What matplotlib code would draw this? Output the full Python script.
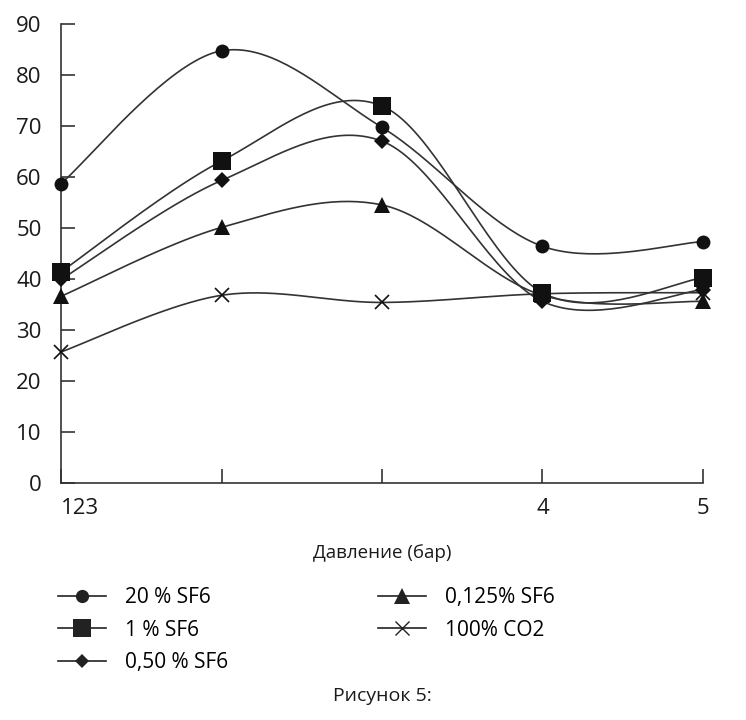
import matplotlib.pyplot as plt
import numpy as np

plt.rcParams['font.family'] = ['Open Sans', 'DejaVu Sans']

# pressure points (categories) and tick labels as printed
positions = [1, 2, 3, 4, 5]
tick_labels = ['123', '', '', '4', '5']

sf6_20 = [58.7, 84.7, 69.7, 46.4, 47.3]
sf6_1 = [41.4, 63.1, 73.9, 37.3, 40.2]
sf6_050 = [39.9, 59.3, 67.0, 35.6, 37.9]
sf6_0125 = [36.6, 50.1, 54.5, 36.8, 35.6]
co2_100 = [25.7, 36.8, 35.4, 37.1, 37.3]

labels = ['20 % SF6', '1 % SF6', '0,50 % SF6', '0,125% SF6', '100% CO2']
markers = ['o', 's', 'D', '^', 'x']
msizes = [10, 13, 8, 12, 10]


def smooth(xs, ys, n=40):
    # excel-like smoothed line: cubic bezier with catmull-rom control points
    p = np.column_stack([xs, ys]).astype(float)
    out = []
    for i in range(len(p) - 1):
        p0 = p[i - 1] if i > 0 else p[i]
        p1 = p[i]
        p2 = p[i + 1]
        p3 = p[i + 2] if i + 2 < len(p) else p[i + 1]
        c1 = p1 + (p2 - p0) / 6
        c2 = p2 - (p3 - p1) / 6
        t = np.linspace(0, 1, n)[:, None]
        seg = ((1 - t) ** 3) * p1 + 3 * ((1 - t) ** 2) * t * c1 + 3 * (1 - t) * t ** 2 * c2 + t ** 3 * p2
        out.append(seg)
    out = np.vstack(out)
    return out[:, 0], out[:, 1]


fig = plt.figure(figsize=(7.46, 7.2), dpi=100)
ax = fig.add_axes([0.0818, 0.329, 0.8605, 0.638])

series = [sf6_20, sf6_1, sf6_050, sf6_0125, co2_100]
handles = []
for ys, lab, m, ms in zip(series, labels, markers, msizes):
    sx, sy = smooth(positions, ys)
    ax.plot(sx, sy, color='#333333', lw=1.2, zorder=2)
    ax.plot(positions, ys, linestyle='none', marker=m, ms=ms, color='#111111',
            mew=1.2 if m == 'x' else 0, zorder=3, clip_on=False)
    # legend handle: line with marker in the middle
    h, = ax.plot([], [], color='#222222', lw=1.2, marker=m, ms=ms * 0.95,
                 mew=1.0 if m == 'x' else 0)
    handles.append(h)

ax.set_xlim(1, 5)
ax.set_ylim(0, 90)
ax.set_yticks(np.arange(0, 91, 10))
ax.set_xticks(positions)
ax.set_xticklabels(tick_labels)
for s in ['top', 'right']:
    ax.spines[s].set_visible(False)
for s in ['left', 'bottom']:
    ax.spines[s].set_color('#333333')
    ax.spines[s].set_linewidth(1.2)
ax.tick_params(direction='in', length=10, width=1.2, color='#333333',
               labelsize=16, labelcolor='#1a1a1a')
ax.tick_params(axis='y', pad=14)
ax.tick_params(axis='x', pad=11)
ax.get_xticklabels()[0].set_horizontalalignment('left')

ax.set_xlabel('Давление (бар)', fontsize=13.5, labelpad=18, color='#1a1a1a')

fig.legend(handles=handles, labels=labels, ncol=2, loc='upper left',
           bbox_to_anchor=(0.067, 0.196), frameon=False, fontsize=15,
           handlelength=2.3, handletextpad=0.9, columnspacing=7.2,
           labelspacing=0.55, borderaxespad=0)

fig.text(0.513, 0.034, 'Рисунок 5:', ha='center', va='center', fontsize=14,
         color='#1a1a1a')

fig.savefig('out.png', dpi=100)
